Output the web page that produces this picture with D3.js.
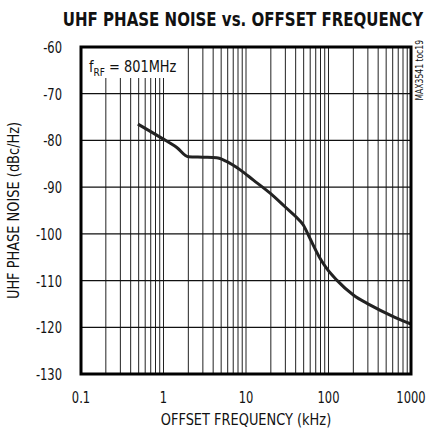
<!DOCTYPE html>
<html lang="en">
<head>
<meta charset="utf-8">
<title>UHF phase noise</title>
<script src="https://d3js.org/d3.v7.min.js"></script>
<style>
body { margin: 0; background: #fff; }
text { font-family: "DejaVu Sans Condensed", "DejaVu Sans", sans-serif; font-stretch: condensed; fill: #111; }
</style>
</head>
<body>
<div id="chart"></div>
<script>
// data
var freqKHz = [0.49, 0.95, 1.45, 2.0, 3.0, 4.4, 5.8, 8.5, 12.3, 19.6, 29.7, 40, 49.5, 59.7, 78.9, 95, 126, 200, 317, 610, 1000];
var noiseDbc = [-76.5, -79.5, -81.5, -83.5, -83.6, -83.7, -84.5, -86.3, -88.5, -91.3, -94.2, -96.3, -98.1, -101, -105.2, -107.4, -109.9, -113.1, -115.2, -117.7, -119.3];
var xTicks = [0.1, 1, 10, 100, 1000];
var yTicks = [-60, -70, -80, -90, -100, -110, -120, -130];

var w = 426, h = 434;
var margin = {top: 47, right: 15, bottom: 60, left: 81};
var width = w - margin.left - margin.right,
    height = h - margin.top - margin.bottom;

var svg = d3.select("#chart").append("svg")
    .attr("width", w)
    .attr("height", h);

var g = svg.append("g")
    .attr("transform", "translate(" + margin.left + "," + margin.top + ")");

var xScale = d3.scaleLog().domain([0.1, 1000]).range([0, width]);
var yScale = d3.scaleLinear().domain([-130, -60]).range([height, 0]);

// minor + major vertical grid
var vlines = [];
for (var dec = 0.1; dec < 1000; dec *= 10) {
  for (var k = 1; k < 10; k++) vlines.push(+(dec * k).toPrecision(3));
}
vlines.push(1000);

// label box hides the grid in the top left corner
var boxW = 84, boxH = 31;

g.append("g").selectAll("line")
  .data(vlines)
  .enter().append("line")
  .attr("x1", function(d){ return xScale(d); })
  .attr("x2", function(d){ return xScale(d); })
  .attr("y1", function(d){ return xScale(d) <= boxW + 1 ? boxH : 0; })
  .attr("y2", height)
  .attr("stroke", "#222")
  .attr("stroke-width", 1);

g.append("g").selectAll("line")
  .data(yTicks)
  .enter().append("line")
  .attr("x1", 0)
  .attr("x2", width)
  .attr("y1", function(d){ return yScale(d); })
  .attr("y2", function(d){ return yScale(d); })
  .attr("stroke", "#111")
  .attr("stroke-width", 1.2);

// the curve
var line = d3.line()
  .x(function(d){ return xScale(d[0]); })
  .y(function(d){ return yScale(d[1]); })
  .curve(d3.curveMonotoneX);

g.append("path")
  .datum(d3.zip(freqKHz, noiseDbc))
  .attr("d", line)
  .attr("fill", "none")
  .attr("stroke", "#222")
  .attr("stroke-width", 3);

// frame
g.append("rect")
  .attr("width", width)
  .attr("height", height)
  .attr("fill", "none")
  .attr("stroke", "#000")
  .attr("stroke-width", 3);

// narrow text: squeeze horizontally with a scale
var sq = 0.8;

g.append("g").selectAll("text")
  .data(xTicks)
  .enter().append("text")
  .attr("transform", function(d){ return "translate(" + xScale(d) + "," + (height + 29) + ") scale(" + sq + ",1)"; })
  .attr("text-anchor", "middle")
  .style("font-size", "16px")
  .text(function(d){ return d; });

g.append("g").selectAll("text")
  .data(yTicks)
  .enter().append("text")
  .attr("transform", function(d){ return "translate(-19," + (yScale(d) + 6) + ") scale(" + sq + ",1)"; })
  .attr("text-anchor", "end")
  .style("font-size", "16px")
  .text(function(d){ return d; });

// f_RF label
var lab = g.append("text")
  .attr("transform", "translate(8,25) scale(0.9,1)")
  .style("font-size", "16px");
lab.append("tspan").text("f");
lab.append("tspan").attr("dy", 4).style("font-size", "11px").text("RF");
lab.append("tspan").attr("dy", -4).text(" = 801MHz");

// titles
svg.append("text")
  .attr("transform", "translate(243,26) scale(0.88,1)")
  .attr("text-anchor", "middle")
  .style("font-size", "19px")
  .style("font-weight", "bold")
  .text("UHF PHASE NOISE vs. OFFSET FREQUENCY");

svg.append("text")
  .attr("transform", "translate(246,425) scale(0.9,1)")
  .attr("text-anchor", "middle")
  .style("font-size", "16px")
  .text("OFFSET FREQUENCY (kHz)");

svg.append("text")
  .attr("transform", "translate(19," + (margin.top + height / 2) + ") rotate(-90) scale(0.9,1)")
  .attr("text-anchor", "middle")
  .style("font-size", "16px")
  .text("UHF PHASE NOISE (dBc/Hz)");

svg.append("text")
  .attr("transform", "translate(423,40) rotate(-90) scale(0.85,1)")
  .attr("text-anchor", "end")
  .style("font-size", "10px")
  .text("MAX3541 toc19");
</script>
</body>
</html>
